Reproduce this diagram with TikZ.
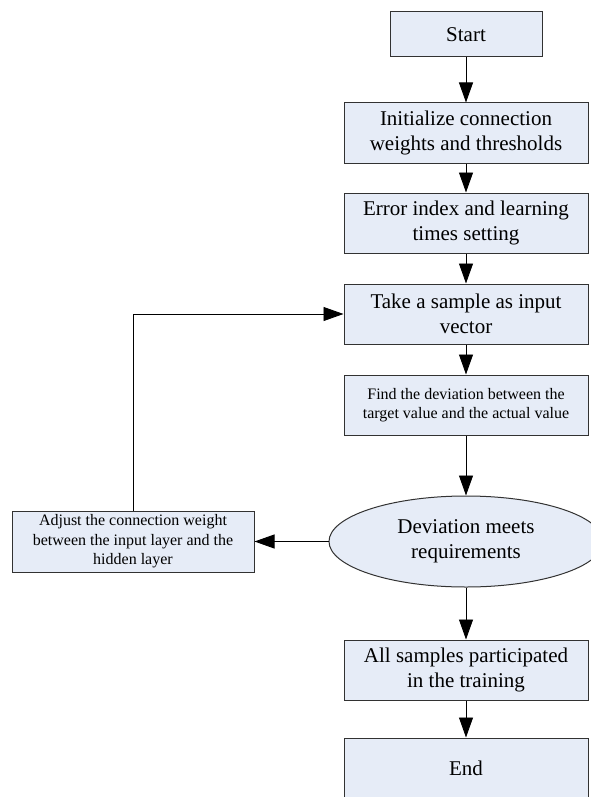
\documentclass[tikz,border=0pt]{standalone}
\usepackage{fontspec}
\setmainfont{Liberation Serif}
\usetikzlibrary{shapes.geometric,arrows.meta}
\definecolor{boxfill}{RGB}{230,236,247}
\definecolor{edge}{RGB}{50,50,50}
\begin{document}
\begin{tikzpicture}[x=1pt,y=-1pt,
  bigtext/.style={font=\fontsize{21pt}{25pt}\selectfont},
  smalltext/.style={font=\fontsize{16pt}{19.5pt}\selectfont},
  stepbox/.style={draw=edge,line width=1pt,fill=boxfill,rectangle,inner sep=0pt,
    align=center,minimum width=244pt,minimum height=60pt},
  decide/.style={draw=edge,line width=1pt,fill=boxfill,ellipse,inner sep=0pt,
    align=center,minimum width=274pt,minimum height=91pt},
  flow/.style={draw=black,line width=0.9pt,-{Triangle[length=20pt,width=14pt]}}]
\useasboundingbox (0,0) rectangle (590,797);
\node[stepbox,bigtext,minimum width=152pt,minimum height=45pt] (start) at (466,34.5) {Start};
\node[stepbox,bigtext] (init) at (466,133) {Initialize connection\\weights and thresholds};
\node[stepbox,bigtext] (err) at (466,223) {Error index and learning\\times setting};
\node[stepbox,bigtext] (take) at (466,314) {Take a sample as input\\vector};
\node[stepbox,smalltext] (find) at (466,405) {Find the deviation between the\\target value and the actual value};
\node[decide,bigtext] (dev) at (466,541.5) {Deviation meets\\requirements};
\node[stepbox,smalltext,minimum width=242pt,minimum height=61pt] (adj) at (133,541.5) {Adjust the connection weight\\between the input layer and the\\hidden layer};
\node[stepbox,bigtext] (all) at (466,670) {All samples participated\\in the training};
\node[stepbox,bigtext] (end) at (466,768) {End};
\draw[flow] (start) -- (init);
\draw[flow] (init) -- (err);
\draw[flow] (err) -- (take);
\draw[flow] (take) -- (find);
\draw[flow] (find) -- (dev);
\draw[flow] (dev) -- (adj);
\draw[flow] (adj.north) -- (adj.north |- take.west) -- (take.west);
\draw[flow] (dev) -- (all);
\draw[flow] (all) -- (end);
\end{tikzpicture}
\end{document}
